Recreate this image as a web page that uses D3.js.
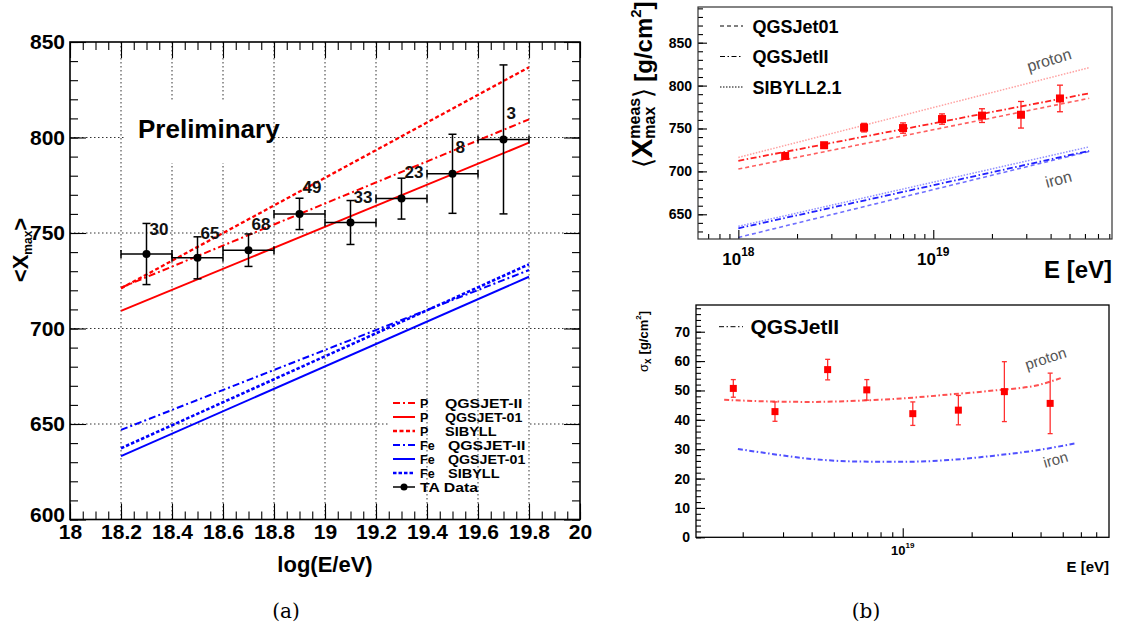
<!DOCTYPE html>
<html>
<head>
<meta charset="utf-8">
<script src="https://cdn.jsdelivr.net/npm/d3@7"></script>
<style>
body { margin: 0; background: #fff; }
text { font-family: "Liberation Sans", Arial, Helvetica, sans-serif; }
</style>
</head>
<body>
<svg width="1121" height="636"></svg>
<script>
// ---------- panel (a): TA <Xmax> ----------
var taLogE = [18.3, 18.5, 18.7, 18.9, 19.1, 19.3, 19.5, 19.7];
var taXmax = [739, 737, 741, 760, 755.5, 768, 781, 799];
var taErr = [16, 11, 8.5, 8.2, 11.5, 10.7, 20.7, 39];
var taCounts = ["30", "65", "68", "49", "33", "23", "8", "3"];
var taLabelY = [752, 750, 755, 774, 769, 782, 795, 813]; // where the event counts were written
var taBinHalf = 0.1;

var modelLogE = [18.2, 19.8];
var pQgsjetII = [721.4, 809.5];
var pQgsjet01 = [709.2, 797.3];
var pSibyll = [721, 836.8];
var feQgsjetII = [646.9, 730.6];
var feQgsjet01 = [633.2, 727.1];
var feSibyll = [637.3, 733.6];

var aTicksX = [18, 18.2, 18.4, 18.6, 18.8, 19, 19.2, 19.4, 19.6, 19.8, 20];
var aTicksY = [600, 650, 700, 750, 800, 850];

// ---------- panel (b) top: <Xmax meas> ----------
var bLogE = [18.24, 18.44, 18.645, 18.845, 19.045, 19.25, 19.45, 19.65];
var bXmax = [718, 730.5, 751, 750.5, 761, 765, 766, 785];
var bErr = [3, 3, 5, 6, 6, 8, 15.5, 15.5];

var bModelLogE = [18.0, 19.8];
var bpQgsjet01 = [702.7, 785.2];
var bpQgsjetII = [712.3, 791];
var bpSibyll = [716.3, 820.9];
var bfeQgsjet01 = [623, 723.3];
var bfeQgsjetII = [633.7, 724];
var bfeSibyll = [636, 728.6];

var bTicksY = [650, 700, 750, 800, 850];
var bDecades = [18, 19];

// ---------- panel (b) bottom: sigma ----------
var cLogE = [18.26, 18.442, 18.672, 18.843, 19.044, 19.243, 19.444, 19.644];
var cSigma = [50.7, 42.8, 57.1, 50.2, 42.1, 43.3, 49.6, 45.6];
var cErr = [3, 3.3, 3.5, 3.5, 4, 5, 10.2, 10.3];

var cProtonLogE = [18.22, 18.4, 18.6, 18.8, 19.0, 19.2, 19.4, 19.6, 19.69];
var cProton = [46.8, 46.3, 46.1, 46.5, 47.3, 48.6, 50.0, 52.0, 54.2];
var cIronLogE = [18.28, 18.4, 18.6, 18.8, 19.0, 19.2, 19.4, 19.6, 19.76];
var cIron = [30.1, 28.7, 26.7, 25.8, 25.7, 26.3, 27.8, 29.8, 32.1];

var cTicksY = [0, 10, 20, 30, 40, 50, 60, 70];
var cDecades = [19];

var svg = d3.select("svg");

// draw an axis that only gives ticks (+ maybe labels), no domain line
function drawTicks(parent, axis, tx, ty, fontSize) {
  var g = parent.append("g").attr("transform", "translate(" + tx + "," + ty + ")").call(axis);
  g.select(".domain").remove();
  g.selectAll(".tick line").attr("stroke", "#000").attr("stroke-width", 1.1);
  g.attr("font-family", "Liberation Sans, Arial, sans-serif")
    .attr("font-weight", "bold")
    .attr("font-size", fontSize || 10);
  g.selectAll(".tick text").attr("fill", "#000");
  return g;
}

function hLine(g, x1, x2, y, col, w) {
  return g.append("line").attr("x1", x1).attr("x2", x2).attr("y1", y).attr("y2", y)
    .attr("stroke", col).attr("stroke-width", w);
}
function vLine(g, x, y1, y2, col, w) {
  return g.append("line").attr("x1", x).attr("x2", x).attr("y1", y1).attr("y2", y2)
    .attr("stroke", col).attr("stroke-width", w);
}

// ================= panel (a) =================
var xa = d3.scaleLinear().domain([18, 20]).range([70, 580]);
var ya = d3.scaleLinear().domain([600, 850]).range([519.5, 42]);
var pa = svg.append("g");

// horizontal grid
aTicksY.slice(1, -1).forEach(function(v) {
  pa.append("line").attr("x1", xa(18)).attr("x2", xa(20)).attr("y1", ya(v)).attr("y2", ya(v))
    .attr("stroke", "#333").attr("stroke-width", 1).attr("stroke-dasharray", "1.5,2.5");
});
// legend background hides the horizontal grid only
pa.append("rect").attr("x", 388).attr("y", 395).attr("width", 141).attr("height", 99).attr("fill", "#fff");
// vertical grid
aTicksX.slice(1, -1).forEach(function(v) {
  pa.append("line").attr("x1", xa(v)).attr("x2", xa(v)).attr("y1", ya(850)).attr("y2", ya(600))
    .attr("stroke", "#333").attr("stroke-width", 1).attr("stroke-dasharray", "1.5,2.5");
});
// "Preliminary" box
pa.append("rect").attr("x", 125).attr("y", 100).attr("width", 148).attr("height", 63).attr("fill", "#fff");
pa.append("text").attr("x", 138).attr("y", 138).style("font-size", "26px").style("font-weight", "bold")
  .text("Preliminary");

var modelsA = [
  { sp: "P", name: "QGSJET-II", vals: pQgsjetII, col: "#ff0000", dash: "7,3,2,3", w: 2 },
  { sp: "P", name: "QGSJET-01", vals: pQgsjet01, col: "#ff0000", dash: null, w: 2 },
  { sp: "P", name: "SIBYLL", vals: pSibyll, col: "#ff0000", dash: "4,2.5", w: 2.3 },
  { sp: "Fe", name: "QGSJET-II", vals: feQgsjetII, col: "#0000ff", dash: "7,3,2,3", w: 2 },
  { sp: "Fe", name: "QGSJET-01", vals: feQgsjet01, col: "#0000ff", dash: null, w: 2 },
  { sp: "Fe", name: "SIBYLL", vals: feSibyll, col: "#0000ff", dash: "3.5,2", w: 2.6 }
];

var lineA = d3.line().x(function(d) { return xa(d[0]); }).y(function(d) { return ya(d[1]); });
modelsA.forEach(function(m) {
  pa.append("path").attr("d", lineA(d3.zip(modelLogE, m.vals)))
    .attr("fill", "none").attr("stroke", m.col).attr("stroke-width", m.w)
    .attr("stroke-dasharray", m.dash);
});

// TA data
taLogE.forEach(function(e, i) {
  var cx = xa(e), cy = ya(taXmax[i]);
  var yt = ya(taXmax[i] + taErr[i]), yb = ya(taXmax[i] - taErr[i]);
  vLine(pa, cx, yt, yb, "#000", 1.5);
  hLine(pa, cx - 4, cx + 4, yt, "#000", 1.5);
  hLine(pa, cx - 4, cx + 4, yb, "#000", 1.5);
  var xl = xa(e - taBinHalf), xr = xa(e + taBinHalf);
  hLine(pa, xl, xr, cy, "#000", 1.5);
  vLine(pa, xl, cy - 4, cy + 4, "#000", 1.5);
  vLine(pa, xr, cy - 4, cy + 4, "#000", 1.5);
  pa.append("circle").attr("cx", cx).attr("cy", cy).attr("r", 4).attr("fill", "#000");
  pa.append("text").attr("x", cx + 3).attr("y", ya(taLabelY[i])).attr("dy", "0.36em")
    .style("font-size", "17px").style("font-weight", "bold").attr("fill", "#111")
    .text(taCounts[i]);
});

// legend (a) -- rows are tightly packed as in the original
var legA = pa.append("g");
var legRow = 14, legTop = 403;
modelsA.forEach(function(m, i) {
  var y = legTop + i * legRow;
  hLine(legA, 393, 415, y, m.col, m.w).attr("stroke-dasharray", m.dash);
  legA.append("text").attr("x", 420).attr("y", y + 4.5).style("font-size", "12.5px").style("font-weight", "bold").text(m.sp);
  legA.append("text").attr("x", m.sp === "P" ? 445 : 448).attr("y", y + 4.5).style("font-size", "12.5px")
    .style("font-weight", "bold").attr("lengthAdjust", "spacingAndGlyphs")
    .attr("textLength", m.name.length * 8.6).text(m.name);
});
var yTA = legTop + 6 * legRow;
hLine(legA, 393, 415, yTA, "#000", 1.5);
legA.append("circle").attr("cx", 404).attr("cy", yTA).attr("r", 3.5).attr("fill", "#000");
legA.append("text").attr("x", 420).attr("y", yTA + 4.5).style("font-size", "12.5px").style("font-weight", "bold")
  .attr("lengthAdjust", "spacingAndGlyphs").attr("textLength", 58).text("TA Data");

// axes (a)
var minorXa = d3.range(0, 41).map(function(i) { return 18 + i * 0.05; });
var minorYa = d3.range(600, 851, 10);
drawTicks(pa, d3.axisBottom(xa).tickValues(minorXa).tickSize(-8).tickFormat(""), 0, ya(600));
drawTicks(pa, d3.axisTop(xa).tickValues(minorXa).tickSize(-8).tickFormat(""), 0, ya(850));
drawTicks(pa, d3.axisLeft(ya).tickValues(minorYa).tickSize(-8).tickFormat(""), xa(18), 0);
drawTicks(pa, d3.axisRight(ya).tickValues(minorYa).tickSize(-8).tickFormat(""), xa(20), 0);
drawTicks(pa, d3.axisBottom(xa).tickValues(aTicksX).tickSize(-16).tickPadding(5).tickFormat(d3.format("")), 0, ya(600), 21);
drawTicks(pa, d3.axisTop(xa).tickValues(aTicksX).tickSize(-16).tickFormat(""), 0, ya(850));
var yAxisA = drawTicks(pa, d3.axisLeft(ya).tickValues(aTicksY).tickSize(-16).tickPadding(5).tickFormat(d3.format("")), xa(18), 0, 21);
// the lowest label sits just above the "18" of the x axis
yAxisA.selectAll(".tick text").filter(function(d) { return d === 600; }).attr("dy", "0.1em");
drawTicks(pa, d3.axisRight(ya).tickValues(aTicksY).tickSize(-16).tickFormat(""), xa(20), 0);
pa.append("rect").attr("x", xa(18)).attr("y", ya(850)).attr("width", xa(20) - xa(18)).attr("height", ya(600) - ya(850))
  .attr("fill", "none").attr("stroke", "#000").attr("stroke-width", 1.6);

pa.append("text").attr("x", 325).attr("y", 572).attr("text-anchor", "middle")
  .style("font-size", "22px").style("font-weight", "bold").text("log(E/eV)");
var yta = pa.append("text").attr("transform", "translate(28,250) rotate(-90)").attr("text-anchor", "middle")
  .style("font-size", "22px").style("font-weight", "bold");
yta.append("tspan").text("<X");
yta.append("tspan").attr("dy", 4).style("font-size", "12px").text("max");
yta.append("tspan").attr("dy", -4).text(">");

// ================= panel (b) top =================
var xb = d3.scaleLog().domain([Math.pow(10, 17.793), Math.pow(10, 19.917)]).range([698, 1112]);
var yb = d3.scaleLinear().domain([621.2, 891.6]).range([239, 7]);
var pb = svg.append("g");

var modelsB = [
  { vals: bpQgsjet01, col: "#ff6060", dash: "4,3", w: 1.6 },
  { vals: bpQgsjetII, col: "#ff2020", dash: "6,2.5,1.5,2.5", w: 1.8 },
  { vals: bpSibyll, col: "#ffa0a0", dash: "1.5,1.5", w: 1.5 },
  { vals: bfeQgsjet01, col: "#7070ff", dash: "4,3", w: 1.6 },
  { vals: bfeQgsjetII, col: "#2020ff", dash: "6,2.5,1.5,2.5", w: 1.8 },
  { vals: bfeSibyll, col: "#9090ff", dash: "1.5,1.5", w: 1.5 }
];
var lineB = d3.line().x(function(d) { return xb(Math.pow(10, d[0])); }).y(function(d) { return yb(d[1]); });
modelsB.forEach(function(m) {
  pb.append("path").attr("d", lineB(d3.zip(bModelLogE, m.vals)))
    .attr("fill", "none").attr("stroke", m.col).attr("stroke-width", m.w).attr("stroke-dasharray", m.dash);
});

bLogE.forEach(function(e, i) {
  var cx = xb(Math.pow(10, e)), cy = yb(bXmax[i]);
  var yt = yb(bXmax[i] + bErr[i]), ybot = yb(bXmax[i] - bErr[i]);
  vLine(pb, cx, yt, ybot, "#ff2020", 1.3);
  hLine(pb, cx - 3, cx + 3, yt, "#ff2020", 1.3);
  hLine(pb, cx - 3, cx + 3, ybot, "#ff2020", 1.3);
  pb.append("rect").attr("x", cx - 4).attr("y", cy - 4).attr("width", 8).attr("height", 8).attr("fill", "#ff0000");
});

pb.append("text").attr("transform", "translate(1029,72) rotate(-17)").style("font-size", "16px").attr("fill", "#555").text("proton");
pb.append("text").attr("transform", "translate(1047,188) rotate(-15)").style("font-size", "16px").attr("fill", "#555").text("iron");

// legend (b top)
var legB = [
  { name: "QGSJet01", dash: "4,3" },
  { name: "QGSJetII", dash: "5,2.5,1.5,2.5" },
  { name: "SIBYLL2.1", dash: "1.5,1.5" }
];
legB.forEach(function(l, i) {
  var y = 26 + i * 30.5;
  pb.append("line").attr("x1", 720).attr("x2", 743).attr("y1", y).attr("y2", y)
    .attr("stroke", "#000").attr("stroke-width", 1).attr("stroke-dasharray", l.dash);
  pb.append("text").attr("x", 752.5).attr("y", y + 6.5).style("font-size", "18px").style("font-weight", "bold").text(l.name);
});

// axes (b top)
var minorB = [];
[17, 18, 19].forEach(function(d) {
  [2, 3, 4, 5, 6, 7, 8, 9].forEach(function(k) {
    var v = k * Math.pow(10, d);
    if (v > xb.domain()[0] && v < xb.domain()[1]) minorB.push(v);
  });
});
var majorB = bDecades.map(function(d) { return Math.pow(10, d); });
drawTicks(pb, d3.axisBottom(xb).tickValues(minorB).tickSize(-5).tickFormat(""), 0, 239);
drawTicks(pb, d3.axisBottom(xb).tickValues(majorB).tickSize(-9).tickFormat(""), 0, 239);
drawTicks(pb, d3.axisLeft(yb).tickValues(d3.range(630, 891, 10)).tickSize(-5).tickFormat(""), 698, 0);
drawTicks(pb, d3.axisLeft(yb).tickValues(bTicksY).tickSize(-9).tickPadding(6).tickFormat(d3.format("")), 698, 0, 14);
pb.append("rect").attr("x", 698).attr("y", 7).attr("width", 414).attr("height", 232)
  .attr("fill", "none").attr("stroke", "#333").attr("stroke-width", 1.2);

bDecades.forEach(function(d) {
  var t = pb.append("text").attr("x", xb(Math.pow(10, d))).attr("y", 265).attr("text-anchor", "middle")
    .style("font-size", "17px").style("font-weight", "bold");
  t.append("tspan").text("10");
  t.append("tspan").attr("dy", -9).style("font-size", "12px").text(d);
});
pb.append("text").attr("x", 1112).attr("y", 278).attr("text-anchor", "end")
  .style("font-size", "24px").style("font-weight", "bold").text("E [eV]");

// rotated title built piece by piece (gap = extra space before a piece)
function richTitle(parent, tx, ty, pieces) {
  var g = parent.append("g").attr("transform", "translate(" + tx + "," + ty + ") rotate(-90)");
  var x = 0;
  pieces.forEach(function(p) {
    var w = 0;
    x += p.gap || 0;
    p.parts.forEach(function(q) {
      var t = g.append("text").attr("x", x).attr("y", q.dy || 0)
        .style("font-size", q.size + "px").style("font-weight", q.normal ? "normal" : "bold").text(q.s);
      w = Math.max(w, t.node().getComputedTextLength());
    });
    x += w;
  });
  return g;
}
richTitle(pb, 652, 168, [
  { parts: [{ s: "\u27E8", size: 26, normal: true }] },
  { parts: [{ s: "X", size: 29 }] },
  { parts: [{ s: "meas", size: 16, dy: -12 }, { s: "max", size: 16, dy: 3 }] },
  { parts: [{ s: "\u27E9", size: 26, normal: true }] },
  { gap: 6, parts: [{ s: "[g/cm", size: 24 }] },
  { parts: [{ s: "2", size: 15, dy: -11 }] },
  { parts: [{ s: "]", size: 24 }] }
]);

// ================= panel (b) bottom =================
var xc = d3.scaleLog().domain([Math.pow(10, 18.097), Math.pow(10, 19.901)]).range([696, 1109]);
var yc = d3.scaleLinear().domain([0, 79.1]).range([537.3, 305]);
var pc = svg.append("g");

var lineC = d3.line().curve(d3.curveMonotoneX)
  .x(function(d) { return xc(Math.pow(10, d[0])); }).y(function(d) { return yc(d[1]); });
pc.append("path").attr("d", lineC(d3.zip(cProtonLogE, cProton))).attr("fill", "none")
  .attr("stroke", "#ff5050").attr("stroke-width", 2).attr("stroke-dasharray", "5,2.5,1.5,2.5");
pc.append("path").attr("d", lineC(d3.zip(cIronLogE, cIron))).attr("fill", "none")
  .attr("stroke", "#5050ff").attr("stroke-width", 2).attr("stroke-dasharray", "5,2.5,1.5,2.5");

cLogE.forEach(function(e, i) {
  var cx = xc(Math.pow(10, e)), cy = yc(cSigma[i]);
  var yt = yc(cSigma[i] + cErr[i]), ybot = yc(cSigma[i] - cErr[i]);
  vLine(pc, cx, yt, ybot, "#ff3030", 1.3);
  hLine(pc, cx - 2.5, cx + 2.5, yt, "#ff3030", 1.3);
  hLine(pc, cx - 2.5, cx + 2.5, ybot, "#ff3030", 1.3);
  pc.append("rect").attr("x", cx - 3.5).attr("y", cy - 3.5).attr("width", 7).attr("height", 7).attr("fill", "#ff0000");
});

pc.append("text").attr("transform", "translate(1027,370) rotate(-18)").style("font-size", "15px").attr("fill", "#555").text("proton");
pc.append("text").attr("transform", "translate(1045,468) rotate(-16)").style("font-size", "15px").attr("fill", "#555").text("iron");

pc.append("line").attr("x1", 719).attr("x2", 743).attr("y1", 326.7).attr("y2", 326.7)
  .attr("stroke", "#000").attr("stroke-width", 1).attr("stroke-dasharray", "5,2.5,1.5,2.5");
pc.append("text").attr("x", 750.5).attr("y", 334).style("font-size", "21px").style("font-weight", "bold").text("QGSJetII");

var minorC = [];
[18, 19].forEach(function(d) {
  [2, 3, 4, 5, 6, 7, 8, 9].forEach(function(k) {
    var v = k * Math.pow(10, d);
    if (v > xc.domain()[0] && v < xc.domain()[1]) minorC.push(v);
  });
});
drawTicks(pc, d3.axisBottom(xc).tickValues(minorC).tickSize(-5).tickFormat(""), 0, 537.3);
drawTicks(pc, d3.axisBottom(xc).tickValues(cDecades.map(function(d) { return Math.pow(10, d); })).tickSize(-9).tickFormat(""), 0, 537.3);
drawTicks(pc, d3.axisLeft(yc).tickValues(d3.range(0, 79, 2)).tickSize(-5).tickFormat(""), 696, 0);
drawTicks(pc, d3.axisLeft(yc).tickValues(cTicksY).tickSize(-9).tickPadding(6).tickFormat(d3.format("")), 696, 0, 14);
pc.append("rect").attr("x", 696).attr("y", 305).attr("width", 413).attr("height", 232.3)
  .attr("fill", "none").attr("stroke", "#000").attr("stroke-width", 1.3);

cDecades.forEach(function(d) {
  var t = pc.append("text").attr("x", xc(Math.pow(10, d))).attr("y", 555).attr("text-anchor", "middle")
    .style("font-size", "13px").style("font-weight", "bold");
  t.append("tspan").text("10");
  t.append("tspan").attr("dy", -7).style("font-size", "8px").text(d);
});
pc.append("text").attr("x", 1109).attr("y", 571.5).attr("text-anchor", "end")
  .style("font-size", "15px").style("font-weight", "bold").text("E [eV]");

richTitle(pc, 648, 372, [
  { parts: [{ s: "\u03C3", size: 13, normal: true }] },
  { parts: [{ s: "x", size: 10, dy: 3 }] },
  { gap: 4, parts: [{ s: "[g/cm", size: 13 }] },
  { parts: [{ s: "2", size: 8, dy: -7 }] },
  { parts: [{ s: "]", size: 13 }] }
]);

// captions
svg.append("text").attr("x", 286).attr("y", 618).attr("text-anchor", "middle")
  .style("font-family", "DejaVu Serif, Liberation Serif, serif").style("font-size", "20px").text("(a)");
svg.append("text").attr("x", 866).attr("y", 618).attr("text-anchor", "middle")
  .style("font-family", "DejaVu Serif, Liberation Serif, serif").style("font-size", "20px").text("(b)");
</script>
</body>
</html>
